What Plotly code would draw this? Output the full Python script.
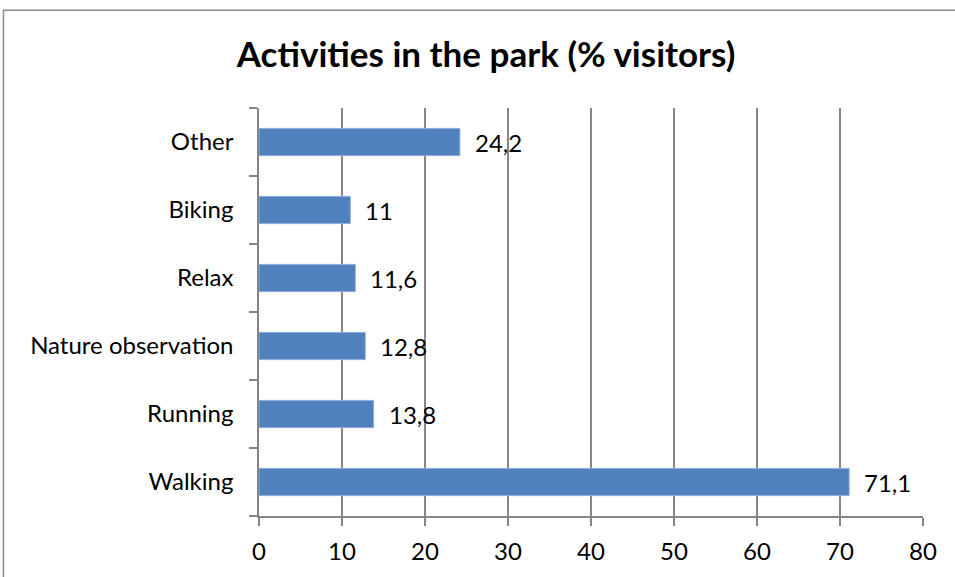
import plotly.graph_objects as go

categories = ["Walking", "Running", "Nature observation", "Relax", "Biking", "Other"]
values = [71.1, 13.8, 12.8, 11.6, 11, 24.2]
x_ticks = [0, 10, 20, 30, 40, 50, 60, 70, 80]

BAR = "#4F81BD"
GRID = "#868686"
FONT = "Lato, Calibri, sans-serif"


def fmt(v):
    s = f"{v:g}"
    return s.replace(".", ",")


fig = go.Figure()
fig.add_trace(go.Bar(
    x=values,
    y=categories,
    orientation="h",
    marker=dict(color=BAR, line=dict(color="#8EAADB", width=1)),
    hoverinfo="skip",
))

# value labels to the right of each bar
for c, v in zip(categories, values):
    fig.add_annotation(
        x=v, y=c, text=fmt(v), showarrow=False,
        xanchor="left", xshift=13,
        font=dict(family=FONT, size=24, color="#000000"),
    )

# outer chart frame
fig.add_shape(
    type="rect", xref="paper", yref="paper",
    x0=-0.3848, x1=1.2, y0=-0.3, y1=1.2397,
    line=dict(color="#8C8C8C", width=1.5), fillcolor="rgba(0,0,0,0)",
    layer="below",
)

fig.update_layout(
    width=955, height=577,
    margin=dict(l=259, r=32, t=108, b=58),
    paper_bgcolor="white", plot_bgcolor="white",
    bargap=0.6,
    showlegend=False,
    title=dict(
        text="<b>Activities in the park (% visitors)</b>",
        x=486 / 955, xref="container", xanchor="center",
        y=1 - 55 / 577, yref="container", yanchor="middle",
        font=dict(family=FONT, size=35, color="#000000"),
    ),
    xaxis=dict(
        range=[0, 80], tickvals=x_ticks, ticktext=[str(t) for t in x_ticks],
        showgrid=True, gridcolor=GRID, gridwidth=1.5,
        showline=True, linecolor=GRID, linewidth=1.5,
        ticks="outside", ticklen=8, tickcolor=GRID, tickwidth=1.5,
        tickfont=dict(family=FONT, size=24, color="#000000"),
        ticklabelstandoff=5,
        zeroline=False,
    ),
    yaxis=dict(
        categoryorder="array", categoryarray=categories,
        showgrid=False,
        showline=True, linecolor=GRID, linewidth=1.5,
        ticks="outside", ticklen=8, tickcolor=GRID, tickwidth=1.5,
        tickson="boundaries",
        tickfont=dict(family=FONT, size=24, color="#000000"),
        ticklabelstandoff=19,
    ),
)

fig.write_html("out.html")
